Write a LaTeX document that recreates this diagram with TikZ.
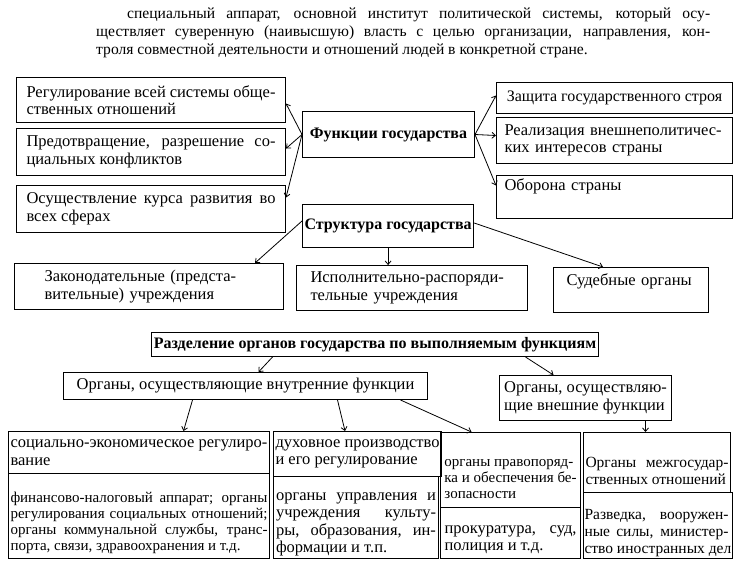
\documentclass[tikz,border=0pt]{standalone}
\usepackage{fontspec}
\setmainfont{Liberation Serif}
\usetikzlibrary{calc,arrows.meta}
\newcommand{\boxfont}{\fontsize{16.5}{17.5}\selectfont}
\newcommand{\smallboxfont}{\fontsize{15}{16}\selectfont}
\newcommand{\jl}[2]{\makebox[#1][s]{#2}}
\newcommand{\topgap}[1]{\rule{0pt}{#1}}

\begin{document}
\begin{tikzpicture}[x=1pt,y=-1pt,>={Straight Barb[length=3.5pt,width=6pt]},
  box/.style={draw, line width=1pt, anchor=north west, align=left, inner xsep=2pt, inner ysep=1pt, font=\boxfont},
  head/.style={box, align=center, font=\fontsize{16}{17}\selectfont\bfseries},
  arr/.style={->, line width=0.8pt}]
      \useasboundingbox (0,0) rectangle (738,574);
      % definition text
      \node[anchor=north west, text width=614pt, align=justify, inner sep=0pt, font=\fontsize{15.6}{17.8}\selectfont] (intro) at (96,8)
        {\hspace*{31pt}специальный аппарат, основной институт политической системы, который осу-\linebreak ществляет суверенную (наивысшую) власть с целью организации, направления, кон-\linebreak троля совместной деятельности и отношений людей в конкретной стране.};
      % functions
      \node[head, minimum width=172pt, minimum height=46pt] (func) at (302,111) {Функции государства};
      \node[box, minimum width=269pt, minimum height=45pt] (reg) at (16,77) {\jl{249pt}{Регулирование всей системы обще-}\\ственных отношений};
      \node[box, minimum width=269pt, minimum height=47pt] (conf) at (16,128) {\jl{249pt}{Предотвращение, разрешение со-}\\циальных конфликтов};
      \node[box, minimum width=269pt, minimum height=47pt] (kurs) at (16,185) {\jl{249pt}{Осуществление курса развития во}\\всех сферах};
      \node[box, minimum width=236pt, minimum height=31pt, font=\fontsize{16}{17}\selectfont] (zash) at (496,82) {Защита государственного строя};
      \node[box, minimum width=236pt, minimum height=46pt, text width=220pt, inner xsep=8pt] (vnesh) at (496,117) {Реализация внешнеполитичес-\\ких интересов страны};
      \node[box, minimum width=236pt, minimum height=43pt, text width=220pt, inner xsep=8pt, text height=11pt, text depth=25pt] (obor) at (496,175) {Оборона страны};
      \draw[arr] (func.west) -- ([yshift=-3.5pt]reg.east);
      \draw[arr] (func.west) -- ([yshift=3.5pt]conf.east);
      \draw[arr] (func.west) -- ([yshift=11.5pt]kurs.east);
      \draw[arr] (func.east) -- ([yshift=2.5pt]zash.west);
      \draw[arr] (func.east) -- ([yshift=5pt]vnesh.west);
      \draw[arr] (func.east) -- ([yshift=11.5pt]obor.west);
      % structure
      \node[head, minimum width=170pt, minimum height=43pt] (struct) at (302,204) {Структура государства};
      \node[box, minimum width=269pt, minimum height=46pt, text width=209pt, inner xsep=30pt] (zak) at (14,263) {Законодательные (предста-\\вительные) учреждения};
      \node[box, minimum width=231pt, minimum height=45pt, text width=203pt, inner xsep=14pt] (isp) at (296,265) {Исполнительно-распоряди-\\тельные учреждения};
      \node[box, minimum width=155pt, minimum height=45pt, text width=129pt, inner xsep=13pt, text height=11pt, text depth=21pt] (sud) at (553,267) {Судебные органы};
      \draw[arr] ([yshift=5pt]struct.west) -- ([xshift=-29pt]zak.north east);
      \draw[arr] (struct.south) -- (struct.south |- isp.north);
      \draw[arr] ([yshift=3pt]struct.east) -- ([xshift=-28pt]sud.north);
      % division by functions
      \node[head, minimum width=447pt, minimum height=24pt] (razd) at (151,332) {Разделение органов государства по выполняемым функциям};
      \node[box, minimum width=364pt, minimum height=27pt] (vnutr) at (63,372) {Органы, осуществляющие внутренние функции};
      \node[box, minimum width=172pt, minimum height=45pt] (vneshn) at (499,375) {Органы, осуществляю-\\щие внешние функции};
      \draw[arr] ([xshift=-102.5pt]razd.south) -- ([xshift=13pt]vnutr.north);
      \draw[arr] ([xshift=150.5pt]razd.south) -- ([xshift=-32pt]vneshn.north);
      % columns
      \node[box, minimum width=261pt, minimum height=42pt] (soc) at (8,431) {социально-экономическое регулиро-\\вание};
      \node[box, minimum width=261pt, minimum height=85pt, font=\smallboxfont] (fin) at (8,473) {\topgap{25pt}\jl{257pt}{финансово-налоговый аппарат; органы}\\\jl{257pt}{регулирования социальных отношений;}\\\jl{257pt}{органы коммунальной службы, транс-}\\порта, связи, здравоохранения и т.д.};
      \node[box, minimum width=165pt, minimum height=45pt] (duh) at (273,431) {духовное производство\\и его регулирование};
      \node[box, minimum width=165pt, minimum height=82pt] (kult) at (273,476) {\topgap{21pt}\jl{160pt}{органы управления и}\\\jl{160pt}{учреждения культу-}\\\jl{160pt}{ры, образования, ин-}\\формации и т.п.};
      \node[box, minimum width=140pt, minimum height=75pt, font=\smallboxfont] (prav) at (440,432) {\topgap{25pt}органы правопоряд-\\ка и обеспечения бе-\\зопасности};
      \node[box, minimum width=140pt, minimum height=51pt] (prok) at (440,507) {\topgap{21.5pt}\jl{132pt}{прокуратура, суд,}\\полиция и т.д.};
      \node[box, minimum width=147pt, minimum height=60pt, font=\fontsize{15.5}{17}\selectfont, inner xsep=1pt] (mezh) at (583,432) {\topgap{27pt}\jl{143pt}{Органы межгосудар-}\\ственных отношений};
      \node[box, minimum width=147pt, minimum height=66pt, font=\fontsize{15.5}{17}\selectfont, inner xsep=1pt] (razv) at (583,492) {\topgap{25pt}\jl{144pt}{Разведка, вооружен-}\\\jl{144pt}{ные силы, министер-}\\ство иностранных дел};
      \draw[arr] ([xshift=-53pt]vnutr.south) -- ([xshift=44.5pt]soc.north);
      \draw[arr] ([xshift=92pt]vnutr.south) -- ([xshift=-12.5pt]duh.north);
      \draw[arr] ([xshift=155pt]vnutr.south) -- ([xshift=-39pt]prav.north);
      \draw[arr] ([xshift=60pt]vneshn.south) -- ([xshift=60pt]vneshn.south |- mezh.north);
\end{tikzpicture}
\end{document}
